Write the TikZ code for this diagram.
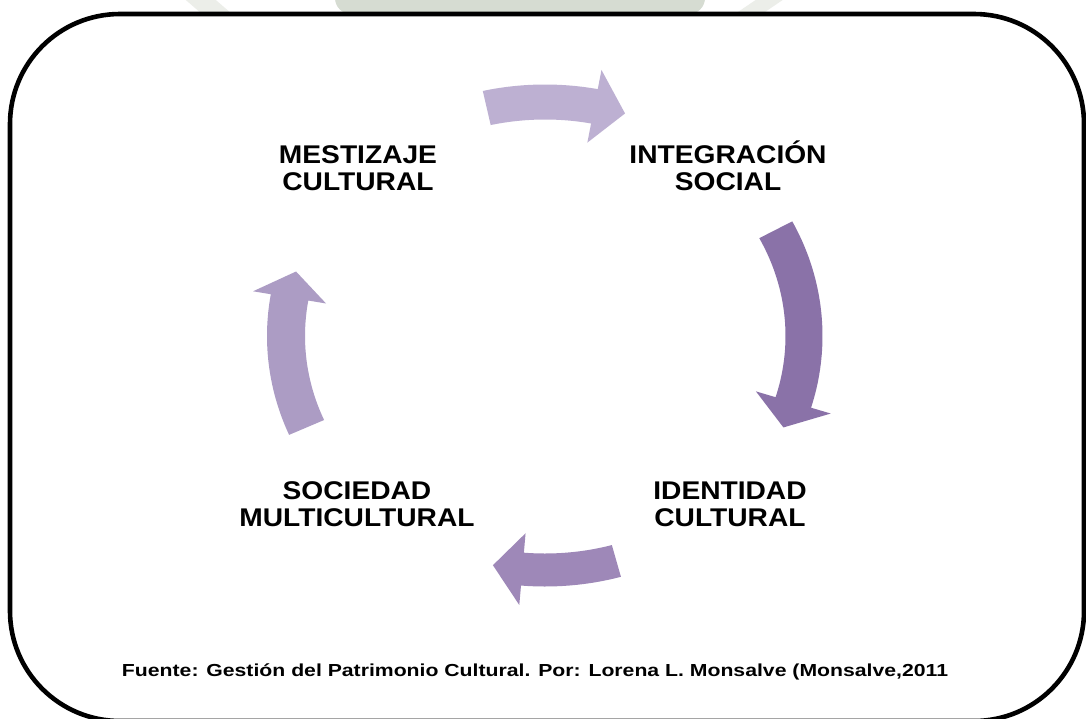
\documentclass[tikz,border=0pt]{standalone}
\usepackage{fontspec}
\usepackage{graphicx}
\setmainfont{Liberation Sans}
\newfontfamily\labfont{Liberation Sans}[FakeStretch=1.1]
\definecolor{arrT}{HTML}{BDB0D2}
\definecolor{arrR}{HTML}{8A72A8}
\definecolor{arrB}{HTML}{9E88B8}
\definecolor{arrL}{HTML}{AC9CC4}
\definecolor{wmark}{HTML}{D6DCD2}
\definecolor{wmarklt}{HTML}{ECEEE9}
% color, tail angle, head-base angle, tip angle, shaft half width, head half width
\newcommand\cyclearrow[6]{%
  \fill[#1] plot[domain=#2:#3,samples=40] ({545+(259+#5)*cos(\x)},{336-(234+#5)*sin(\x)})
    -- ({545+(259+#6)*cos(#3)},{336-(234+#6)*sin(#3)})
    -- ({545+259*cos(#4)},{336-234*sin(#4)})
    -- ({545+(259-#6)*cos(#3)},{336-(234-#6)*sin(#3)})
    -- plot[domain=#3:#2,samples=40] ({545+(259-#5)*cos(\x)},{336-(234-#5)*sin(\x)})
    -- cycle;}
\tikzset{
  lab/.style={font=\labfont\bfseries\fontsize{12.8}{14}\selectfont, anchor=base, inner sep=0pt},
  src/.style={font=\bfseries\fontsize{8.7}{10}\selectfont, anchor=base, inner sep=0pt},
  frame/.style={draw=black, line width=2.3pt, rounded corners=55pt}
}
\begin{document}
\begin{tikzpicture}[x=0.5pt,y=-0.5pt]
\useasboundingbox (0,0) rectangle (1086,718);
\clip (0,0) rectangle (1086,718);
\fill[white] (0,0) rectangle (1086,718);
% faint watermark cut by the top of the frame
\fill[wmarklt] (180,-5) -- (210,-5) -- (232,14) -- (202,14) -- cycle;
\fill[wmarklt] (735,14) -- (762,14) -- (790,-5) -- (763,-5) -- cycle;
\fill[wmark, rounded corners=8pt] (335,-30) rectangle (705,14);
% frame
\draw[frame] (10,14) rectangle (1084,721);
% arrows
\cyclearrow{arrT}{103}{79}{72}{17.5}{37}
\cyclearrow{arrR}{27}{-16.5}{-23}{18.5}{39}
\cyclearrow{arrB}{-74}{-95}{-101.6}{16.5}{36}
\cyclearrow{arrL}{203}{170.5}{164}{19}{37}
% labels
\node[lab] (mest1) at (358,163) {MESTIZAJE};
\node[lab] (mest2) at (358,190) {CULTURAL};
\node[lab] (inte1) at (728,163) {INTEGRACIÓN};
\node[lab] (inte2) at (728,190) {SOCIAL};
\node[lab] (iden1) at (730,499) {IDENTIDAD};
\node[lab] (iden2) at (730,526) {CULTURAL};
\node[lab] (soci1) at (357,499) {SOCIEDAD};
\node[lab] (soci2) at (357,526) {MULTICULTURAL};
\node[src] (fuente) at (535,676) {\resizebox{413pt}{\height}{Fuente: Gestión del Patrimonio Cultural. Por: Lorena L. Monsalve (Monsalve,2011}};
\end{tikzpicture}
\end{document}
